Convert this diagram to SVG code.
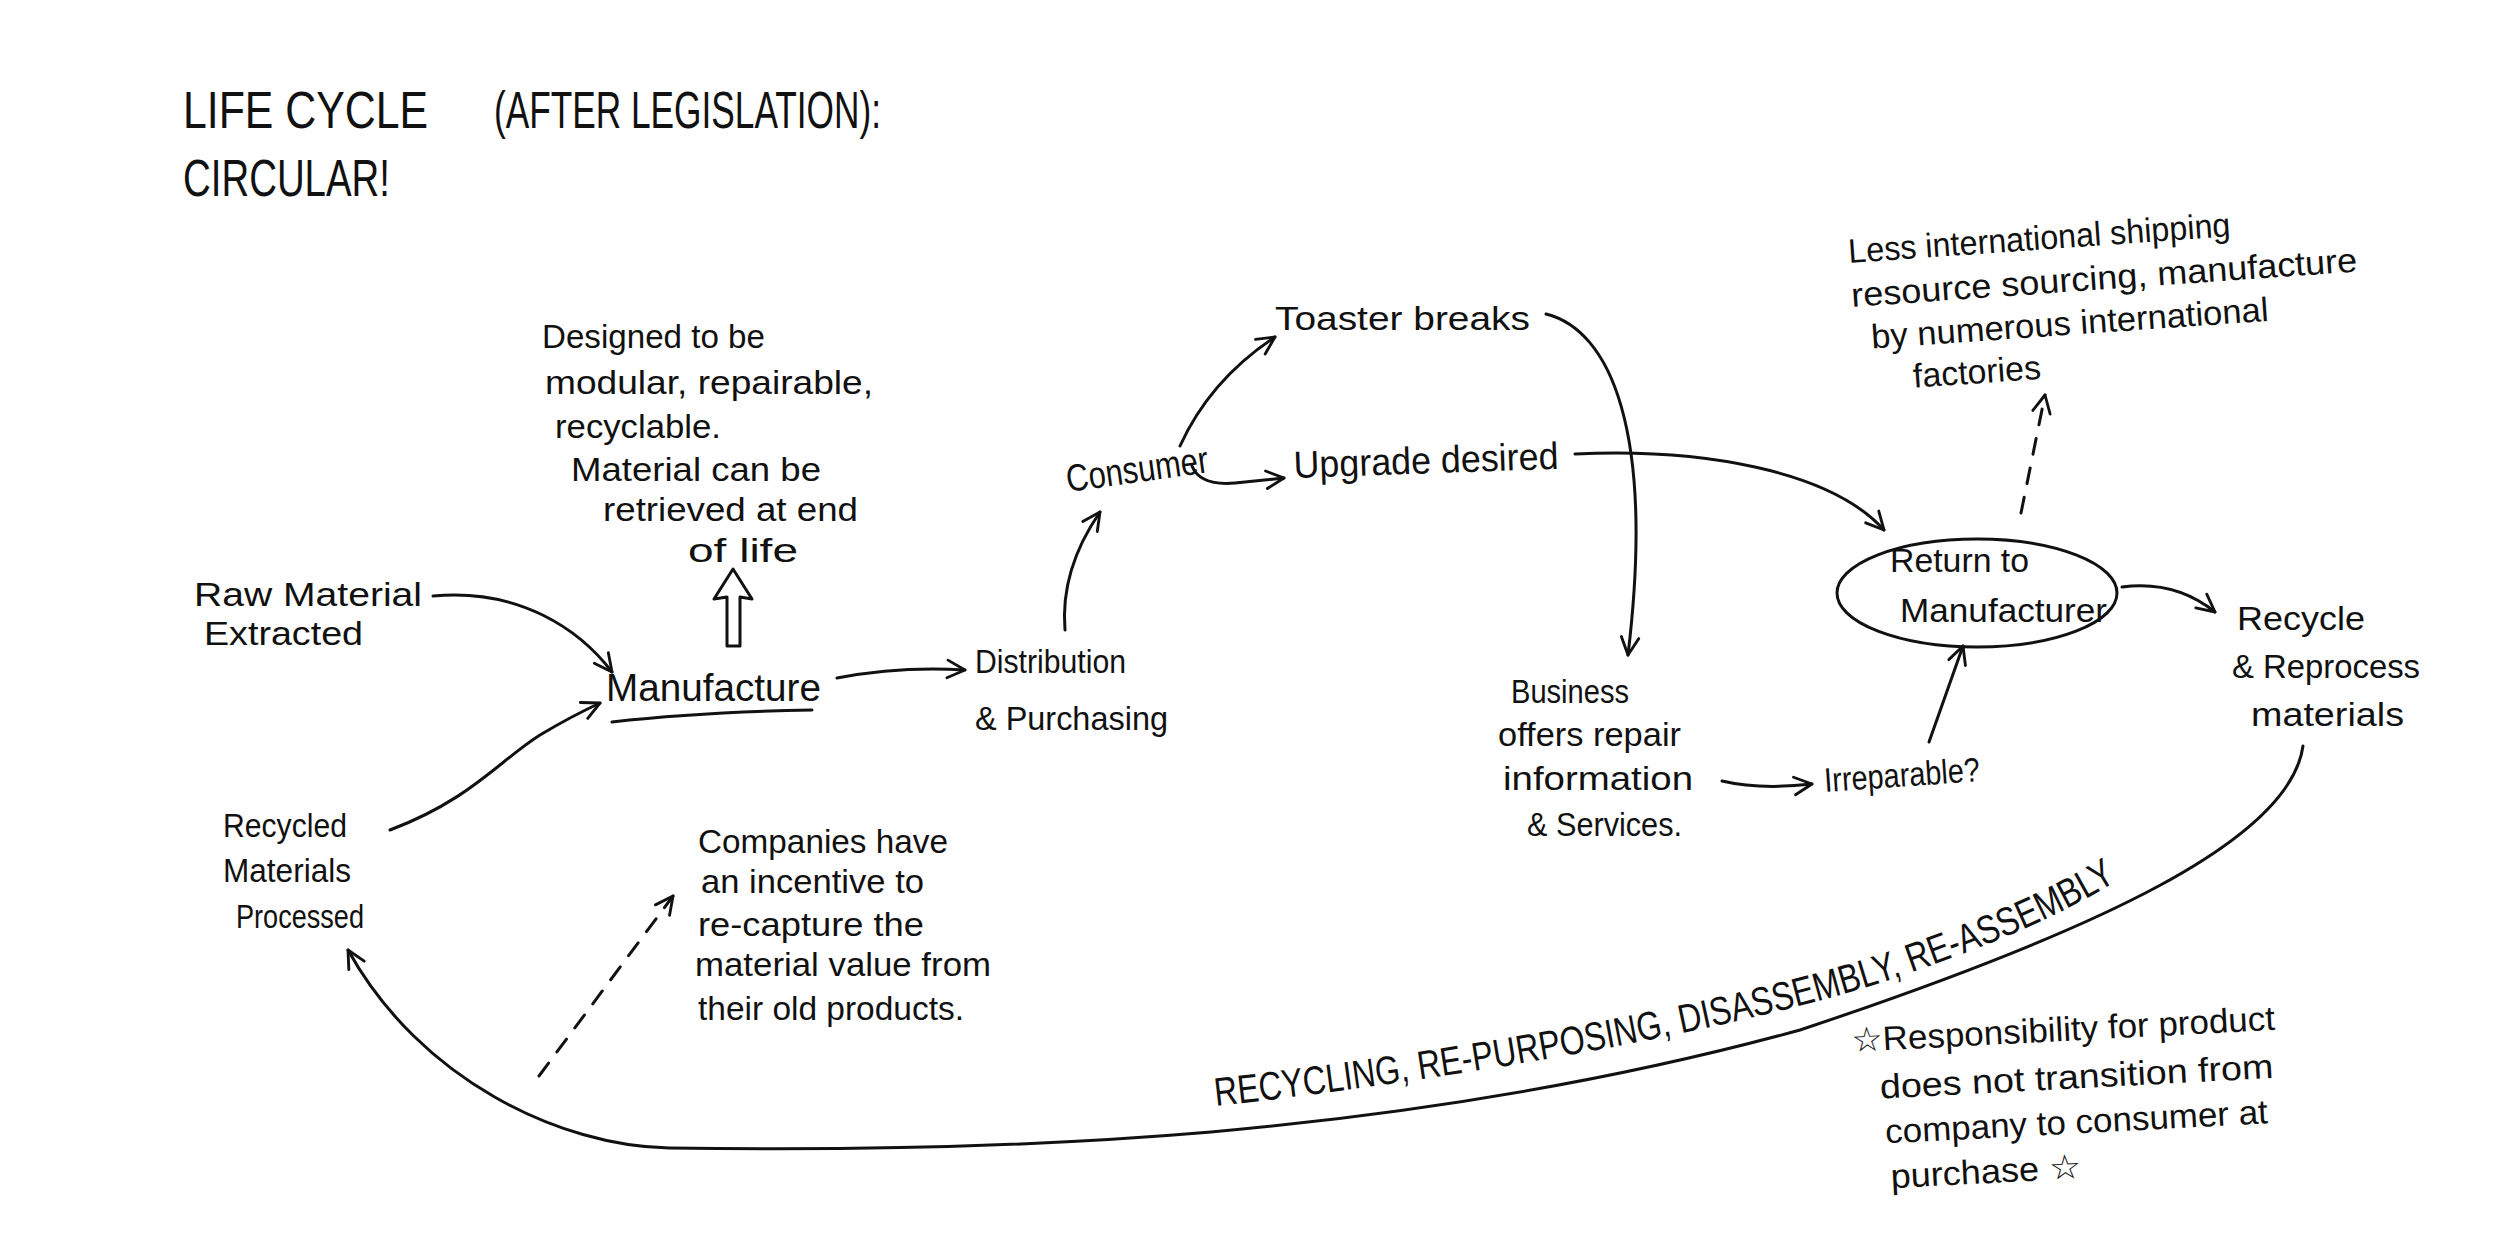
<svg xmlns="http://www.w3.org/2000/svg" width="2500" height="1257" viewBox="0 0 2500 1257">
<style>
text{font-family:"Liberation Sans","DejaVu Sans",sans-serif;fill:#111;}
.t{font-size:34px;}
.m{font-size:38px;}
.h{font-size:52px;}
.c{fill:none;stroke:#111;stroke-width:3;stroke-linecap:round;}
.d{stroke-dasharray:16 14;}
</style>
<defs>
<marker id="ah" viewBox="0 0 20 20" refX="18" refY="10" markerWidth="22" markerHeight="22" markerUnits="userSpaceOnUse" orient="auto">
<path d="M2,2 L18,10 L2,18" fill="none" stroke="#111" stroke-width="2.6" stroke-linecap="round" stroke-linejoin="round"/>
</marker>
<path id="lp" d="M1216,1106 C1450,1080 1750,1030 1913,972 C2010,938 2085,905 2145,862"/>
</defs>
<rect width="2500" height="1257" fill="#fff"/>

<g id="title">
<text class="h"><tspan x="183" y="128" textLength="245" lengthAdjust="spacingAndGlyphs">LIFE CYCLE</tspan><tspan x="494" y="128" textLength="387" lengthAdjust="spacingAndGlyphs">(AFTER LEGISLATION):</tspan><tspan x="183" y="196" textLength="207" lengthAdjust="spacingAndGlyphs">CIRCULAR!</tspan></text>
</g>

<g id="connectors">
<path class="c" d="M433,596 C520,588 580,630 612,672" marker-end="url(#ah)"/>
<path class="c" d="M612,722 Q700,712 812,710"/>
<path class="c" d="M390,830 C470,800 500,760 540,735 C565,720 585,710 600,703" marker-end="url(#ah)"/>
<path class="c" d="M837,678 Q900,666 965,670" marker-end="url(#ah)"/>
<path class="c" d="M1065,630 Q1060,570 1100,512" marker-end="url(#ah)"/>
<path class="c" d="M1180,446 Q1210,380 1275,337" marker-end="url(#ah)"/>
<path class="c" d="M1192,466 Q1200,486 1235,483 L1284,478" marker-end="url(#ah)"/>
<path class="c" d="M1546,314 C1610,330 1655,430 1628,655" marker-end="url(#ah)"/>
<path class="c" d="M1722,781 Q1760,790 1812,784" marker-end="url(#ah)"/>
<path class="c" d="M1929,742 L1963,646" marker-end="url(#ah)"/>
<path class="c" d="M1575,454 C1700,448 1830,470 1884,530" marker-end="url(#ah)"/>
<path class="c d" d="M2021,513 L2045,395" marker-end="url(#ah)"/>
<path class="c" d="M2122,587 Q2175,580 2215,612" marker-end="url(#ah)"/>
<path class="c" d="M2303,746 C2290,840 2100,930 1800,1030 C1600,1085 1400,1115 1211,1132 C1000,1150 800,1150 669,1148 C560,1146 420,1080 348,950" marker-end="url(#ah)"/>
<path class="c d" d="M539,1076 L673,896" marker-end="url(#ah)"/>
<path d="M727,646 L727,597 L714,599 L733,569 L752,599 L740,597 L740,646 Z" fill="none" stroke="#111" stroke-width="3" stroke-linejoin="round"/>
</g>

<g id="designed">
<text class="t"><tspan x="542" y="348" textLength="223" lengthAdjust="spacingAndGlyphs">Designed to be</tspan><tspan x="545" y="394" textLength="328" lengthAdjust="spacingAndGlyphs">modular, repairable,</tspan><tspan x="555" y="438" textLength="166" lengthAdjust="spacingAndGlyphs">recyclable.</tspan><tspan x="571" y="481" textLength="250" lengthAdjust="spacingAndGlyphs">Material can be</tspan><tspan x="603" y="521" textLength="255" lengthAdjust="spacingAndGlyphs">retrieved at end</tspan><tspan x="688" y="562" textLength="110" lengthAdjust="spacingAndGlyphs">of life</tspan></text>
</g>

<g id="raw">
<text class="t"><tspan x="194" y="606" textLength="228" lengthAdjust="spacingAndGlyphs">Raw Material</tspan><tspan x="204" y="645" textLength="159" lengthAdjust="spacingAndGlyphs">Extracted</tspan></text>
</g>

<g id="manufacture">
<text class="m" x="606" y="701" textLength="215" lengthAdjust="spacingAndGlyphs">Manufacture</text>
</g>

<g id="distribution">
<text class="t"><tspan x="975" y="673" textLength="151" lengthAdjust="spacingAndGlyphs">Distribution</tspan><tspan x="975" y="730" textLength="193" lengthAdjust="spacingAndGlyphs">&amp; Purchasing</tspan></text>
</g>

<g id="consumer">
<text class="m" x="1068" y="492" textLength="143" lengthAdjust="spacingAndGlyphs" transform="rotate(-8 1068 492)">Consumer</text>
</g>

<g id="toaster">
<text class="t" x="1275" y="330" textLength="255" lengthAdjust="spacingAndGlyphs">Toaster breaks</text>
</g>

<g id="upgrade">
<text class="m" x="1294" y="478" textLength="265" lengthAdjust="spacingAndGlyphs" transform="rotate(-2 1294 478)">Upgrade desired</text>
</g>

<g id="business">
<text class="t"><tspan x="1511" y="703" textLength="118" lengthAdjust="spacingAndGlyphs">Business</tspan><tspan x="1498" y="746" textLength="183" lengthAdjust="spacingAndGlyphs">offers repair</tspan><tspan x="1503" y="790" textLength="190" lengthAdjust="spacingAndGlyphs">information</tspan><tspan x="1527" y="836" textLength="155" lengthAdjust="spacingAndGlyphs">&amp; Services.</tspan></text>
</g>

<g id="irreparable">
<text class="t" x="1825" y="792" textLength="156" lengthAdjust="spacingAndGlyphs" transform="rotate(-4 1825 792)">Irreparable?</text>
</g>

<g id="return">
<ellipse cx="1977" cy="593" rx="140" ry="54" fill="none" stroke="#111" stroke-width="3"/>
<text class="t"><tspan x="1890" y="572" textLength="139" lengthAdjust="spacingAndGlyphs">Return to</tspan><tspan x="1900" y="622" textLength="207" lengthAdjust="spacingAndGlyphs">Manufacturer</tspan></text>
</g>

<g id="shipping">
<text class="t" transform="rotate(-4 1849 263)"><tspan x="1849" y="263" textLength="383" lengthAdjust="spacingAndGlyphs">Less international shipping</tspan><tspan x="1849" y="307" textLength="507" lengthAdjust="spacingAndGlyphs">resource sourcing, manufacture</tspan><tspan x="1866" y="350" textLength="398" lengthAdjust="spacingAndGlyphs">by numerous international</tspan><tspan x="1905" y="392" textLength="128" lengthAdjust="spacingAndGlyphs">factories</tspan></text>
</g>

<g id="recycle">
<text class="t"><tspan x="2237" y="630" textLength="128" lengthAdjust="spacingAndGlyphs">Recycle</tspan><tspan x="2232" y="678" textLength="188" lengthAdjust="spacingAndGlyphs">&amp; Reprocess</tspan><tspan x="2251" y="726" textLength="153" lengthAdjust="spacingAndGlyphs">materials</tspan></text>
</g>

<g id="recycled">
<text class="t"><tspan x="223" y="837" textLength="124" lengthAdjust="spacingAndGlyphs">Recycled</tspan><tspan x="223" y="882" textLength="128" lengthAdjust="spacingAndGlyphs">Materials</tspan><tspan x="236" y="928" textLength="128" lengthAdjust="spacingAndGlyphs">Processed</tspan></text>
</g>

<g id="companies">
<text class="t"><tspan x="698" y="853" textLength="250" lengthAdjust="spacingAndGlyphs">Companies have</tspan><tspan x="701" y="893" textLength="223" lengthAdjust="spacingAndGlyphs">an incentive to</tspan><tspan x="698" y="936" textLength="226" lengthAdjust="spacingAndGlyphs">re-capture the</tspan><tspan x="695" y="976" textLength="296" lengthAdjust="spacingAndGlyphs">material value from</tspan><tspan x="698" y="1020" textLength="266" lengthAdjust="spacingAndGlyphs">their old products.</tspan></text>
</g>

<g id="loop-label">
<text style="font-size:40px"><textPath href="#lp" textLength="935" lengthAdjust="spacingAndGlyphs">RECYCLING, RE-PURPOSING, DISASSEMBLY, RE-ASSEMBLY</textPath></text>
</g>

<g id="responsibility">
<text class="t" transform="rotate(-3 1852 1052)"><tspan x="1852" y="1052" textLength="424" lengthAdjust="spacingAndGlyphs">☆Responsibility for product</tspan><tspan x="1878" y="1100" textLength="394" lengthAdjust="spacingAndGlyphs">does not transition from</tspan><tspan x="1881" y="1145" textLength="383" lengthAdjust="spacingAndGlyphs">company to consumer at</tspan><tspan x="1884" y="1190" textLength="191" lengthAdjust="spacingAndGlyphs">purchase ☆</tspan></text>
</g>
</svg>
